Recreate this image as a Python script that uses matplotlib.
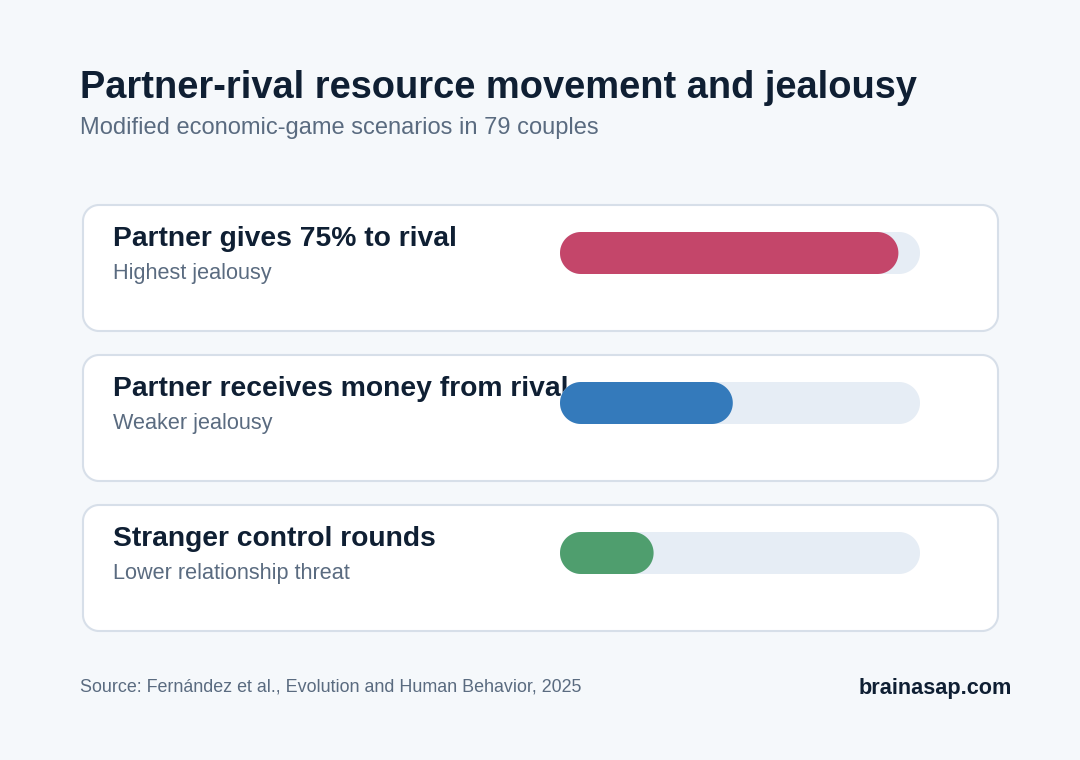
import matplotlib
matplotlib.use("Agg")
import numpy as np
import matplotlib.pyplot as plt
from matplotlib.patches import Polygon

plt.rcParams['font.family'] = ['Liberation Sans', 'DejaVu Sans']

# ---- data ----
categories = ["Partner gives 75% to rival",
              "Partner receives money from rival",
              "Stranger control rounds"]
descriptions = ["Highest jealousy", "Weaker jealousy", "Lower relationship threat"]
values = [94, 48, 26]          # relative jealousy (0-100 scale)
bar_colors = ["#c4466a", "#347abb", "#4f9e6e"]
title = "Partner-rival resource movement and jealousy"
subtitle = "Modified economic-game scenarios in 79 couples"
source = "Source: Fernández et al., Evolution and Human Behavior, 2025"
brand = "brainasap.com"

BG = "#f5f8fb"
DARK = "#0f1f33"
GREY = "#5a6b80"
TRACK = "#e6edf5"
BORDER = "#d7dfe9"

W, H = 1080, 760
fig = plt.figure(figsize=(W / 100, H / 100), dpi=100, facecolor=BG)
ax = fig.add_axes([0, 0, 1, 1])
ax.set_xlim(0, W)
ax.set_ylim(H, 0)
ax.set_aspect('equal')
ax.axis('off')


def rounded_rect(x, y, w, h, r, **kw):
    r = min(r, w / 2, h / 2)
    t = np.linspace(0, np.pi / 2, 24)
    pts = []
    # corners (y grows downward in data coords)
    for cx, cy, a0 in [(x + w - r, y + r, -np.pi / 2),   # top-right
                       (x + w - r, y + h - r, 0),        # bottom-right
                       (x + r, y + h - r, np.pi / 2),    # bottom-left
                       (x + r, y + r, np.pi)]:           # top-left
        ang = a0 + t
        pts.extend(zip(cx + r * np.cos(ang), cy + r * np.sin(ang)))
    return Polygon(pts, closed=True, **kw)


ax.text(80, 98, title, fontsize=27.4, fontweight='bold', color=DARK, va='baseline', ha='left')
ax.text(80, 134, subtitle, fontsize=17, color=GREY, va='baseline', ha='left')

card_x, card_w, card_h = 83, 915, 126
track_x, track_w, bar_h = 560, 360, 42
for i, (cat, desc, val, col) in enumerate(zip(categories, descriptions, values, bar_colors)):
    top = 205 + 150 * i
    ax.add_patch(rounded_rect(card_x, top, card_w, card_h, 16, facecolor="white",
                              edgecolor=BORDER, linewidth=1.5, zorder=1))
    by = top + 27
    ax.add_patch(rounded_rect(track_x, by, track_w, bar_h, bar_h / 2,
                              facecolor=TRACK, edgecolor='none', zorder=2))
    fw = track_w * val / 100
    ax.add_patch(rounded_rect(track_x, by, fw, bar_h, bar_h / 2,
                              facecolor=col, edgecolor='none', zorder=3))
    ax.text(113, top + 41, cat, fontsize=20.3, fontweight='bold', color=DARK,
            va='baseline', ha='left', zorder=1.5)
    ax.text(113, top + 74, desc, fontsize=15.6, color=GREY, va='baseline', ha='left', zorder=1.5)

ax.text(80, 691, source, fontsize=12.9, color=GREY, va='baseline', ha='left')
ax.text(1012, 694, brand, fontsize=15.6, fontweight='bold', color=DARK, va='baseline', ha='right')

fig.savefig("out.png", dpi=100, facecolor=BG)
